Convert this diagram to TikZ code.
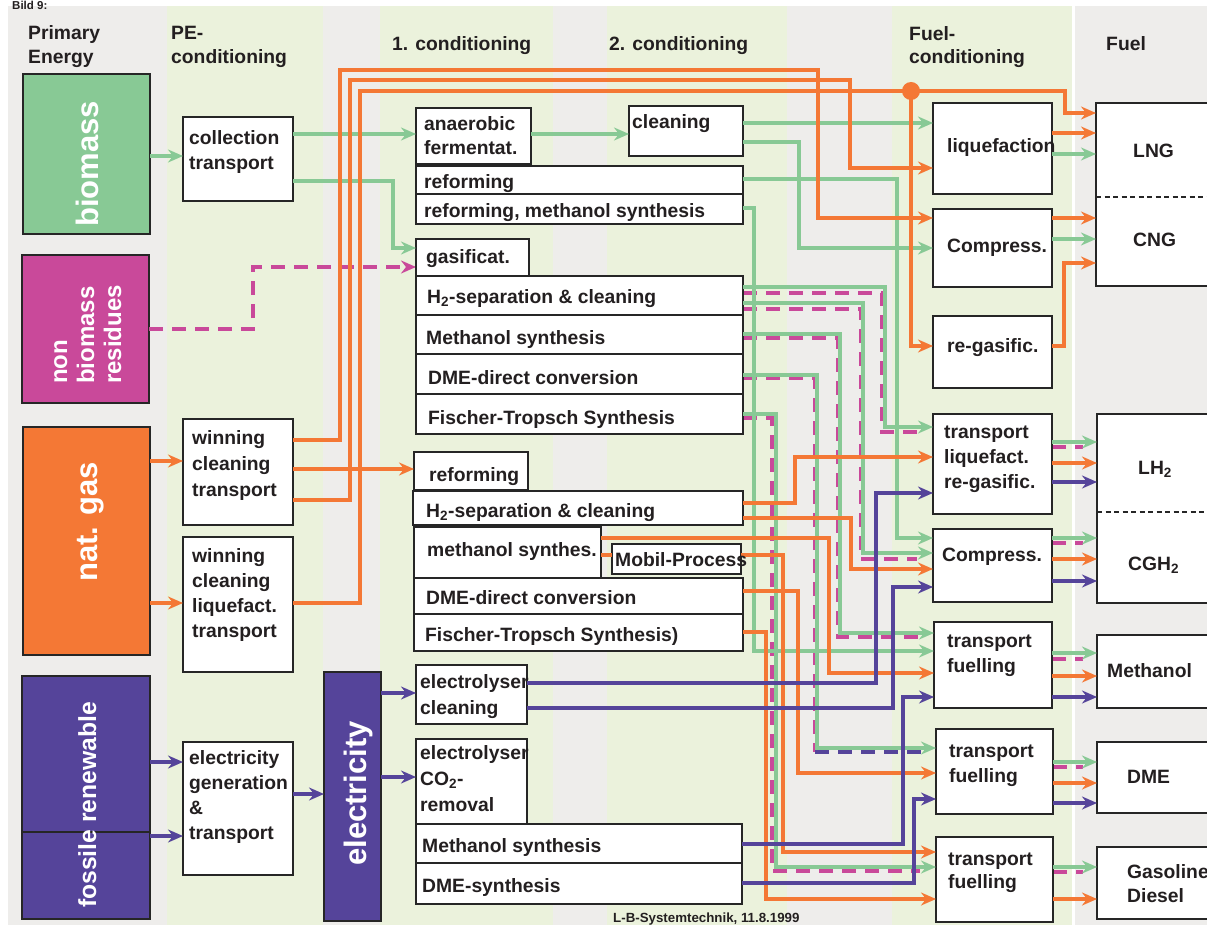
\documentclass[tikz,border=0pt]{standalone}
\usepackage{fontspec}
\setmainfont{Liberation Sans}
\usetikzlibrary{arrows.meta}
\definecolor{cgrn}{HTML}{88C995}
\definecolor{corg}{HTML}{F47835}
\definecolor{cmag}{HTML}{C9499A}
\definecolor{cpur}{HTML}{55449A}
\definecolor{bgg}{HTML}{EEEDEB}
\definecolor{bgl}{HTML}{EBF2DC}
\definecolor{txt}{HTML}{231F20}
\newcommand\bx[6][]{\node[box,#1,minimum width={(#5-#3)*1pt},minimum height={(#6-#4)*1pt}] (#2) at (#3,#4) {};}
\newcommand\lb[5][25.5]{\node[lbl,font=\bfseries\fontsize{19.3}{#1}\selectfont] (#2) at (#3,{#4-0.7*#1}) {\strut #5};}
\begin{document}
\begin{tikzpicture}[x=1pt,y=-1pt,
  box/.style={draw=black!85,line width=1.2pt,fill=white,anchor=north west,inner sep=0pt,outer sep=0pt},
  lbl/.style={anchor=north west,inner sep=0pt,align=left,text=txt},
  rot/.style={rotate=90,anchor=base west,inner sep=0pt,text=white},
  tip/.style={-{Stealth[length=15pt,width=13pt,inset=5pt]}},
  ln/.style={line width=3.3pt},
  gr/.style={ln,draw=cgrn,tip},
  or/.style={ln,draw=corg,tip},
  orn/.style={ln,draw=corg},
  pu/.style={ln,draw=cpur,tip},
  mg/.style={line width=3.6pt,draw=cmag,dash pattern=on 14pt off 9pt},
  pud/.style={line width=3.6pt,draw=cpur,dash pattern=on 14pt off 9pt},
  divl/.style={line width=1.3pt,draw=black!85,dash pattern=on 5pt off 3.5pt}
]
\useasboundingbox (0,0) rectangle (1207,925);
% background columns
\fill[bgg] (8,6) rectangle (167,925);
\fill[bgl] (167,6) rectangle (323,925);
\fill[bgg] (323,6) rectangle (380,925);
\fill[bgl] (380,6) rectangle (553,925);
\fill[bgg] (553,6) rectangle (607,925);
\fill[bgl] (607,6) rectangle (787,925);
\fill[bgg] (787,6) rectangle (892,925);
\fill[bgl] (892,6) rectangle (1072,925);
\fill[bgg] (1075,6) rectangle (1207,925);
\node[anchor=base west,inner sep=0pt,text=txt,font=\bfseries\fontsize{11.5}{11.5}\selectfont] (bild) at (12,9.5) {Bild 9:};
% headers
\lb[24]{hpe}{28}{39}{Primary\\Energy}
\lb[24]{hpec}{171}{39}{PE-\\conditioning}
\lb{hc1}{392}{50}{1. conditioning}
\lb{hc2}{609}{50}{2. conditioning}
\lb[23]{hfc}{909}{40}{Fuel-\\conditioning}
\lb{hfu}{1106}{50}{Fuel}
% coloured source boxes
\bx[fill=cgrn]{bio}{23}{74}{150}{234}
\bx[fill=cmag]{nonbio}{22}{255}{149}{403}
\bx[fill=corg]{natgas}{23}{427}{150}{655}
\bx[fill=cpur]{fossil}{22}{815}{150}{919}
\bx[fill=cpur]{renew}{22}{676}{150}{832}
\bx[fill=cpur]{elec}{324}{672}{381}{921}
% magenta dashed routes
\draw[mg,tip] (nonbio.east |- 0,329) -| (253,267) -- (416,267);
\draw[mg,shorten >=16pt] (743,293) -| (882,432) -- (933,432);
\draw[mg,shorten >=16pt] (743,309) -| (861,559) -- (933,559);
\draw[mg,shorten >=16pt] (743,338) -| (838,637) -- (934,637);
\coordinate (dmecorner) at (815,752);
\draw[mg] (743,378) -| (dmecorner);
\draw[pud,shorten >=14pt] (dmecorner) -- (936,752);
\draw[mg,shorten >=16pt] (743,418) -| (772,871) -- (936,871);
\draw[mg,shorten >=14pt] (1052,447) -- (1097,447);
\draw[mg,shorten >=14pt] (1052,543) -- (1097,543);
\draw[mg,shorten >=14pt] (1052,659) -- (1097,659);
\draw[mg,shorten >=14pt] (1053,767) -- (1097,767);
\draw[mg,shorten >=14pt] (1053,872) -- (1097,872);
% white boxes
\bx{collect}{183}{117}{293}{201}
\bx{win1}{183}{419}{293}{525}
\bx{win2}{183}{537}{293}{672}
\bx{elgen}{183}{742}{293}{875}
\bx{anaer}{416}{108}{531}{164}
\bx{clean}{629}{106}{743}{156}
\bx{reform}{416}{166}{743}{194}
\bx{refmeth}{416}{194}{743}{224}
\bx{gasif}{416}{239}{529}{276}
\bx{h2a}{416}{276}{743}{315}
\bx{meoh}{416}{315}{743}{354}
\bx{dmea}{416}{354}{743}{394}
\bx{fta}{416}{394}{743}{434}
\bx{reform2}{414}{452}{528}{490}
\bx{h2b}{413}{491}{743}{525}
\bx{meoh2}{414}{527}{601}{578}
\bx{dme2}{414}{578}{743}{614}
\bx{ft2}{414}{614}{743}{651}
\bx{mobil}{612}{544}{741}{574}
\bx{ely1}{416}{665}{527}{724}
\bx{ely2}{416}{739}{527}{824}
\bx{meoh3}{416}{824}{742}{863}
\bx{dme3}{416}{863}{742}{904}
\bx{liq}{933}{103}{1052}{194}
\bx{comp1}{933}{209}{1052}{287}
\bx{regas}{933}{316}{1052}{388}
\bx{tliq}{933}{414}{1052}{514}
\bx{comp2}{933}{529}{1052}{602}
\bx{tf1}{934}{622}{1052}{708}
\bx{tf2}{936}{729}{1053}{814}
\bx{tf3}{936}{837}{1053}{922}
\bx{fng}{1096}{103}{1215}{286}
\bx{fh2}{1097}{414}{1215}{603}
\bx{fmeoh}{1097}{635}{1215}{708}
\bx{fdme}{1097}{742}{1215}{813}
\bx{fgas}{1097}{847}{1215}{919}
\draw[divl] (fng.west |- 0,197) -- (1207,197);
\draw[divl] (fh2.west |- 0,512) -- (1207,512);
% green routes
\draw[gr] (bio.east |- 0,156) -- (collect.west |- 0,156);
\draw[gr] (collect.east |- 0,134) -- (anaer.west |- 0,134);
\draw[gr] (collect.east |- 0,181) -| (393,248) -- (gasif.west |- 0,248);
\draw[gr] (anaer.east |- 0,134) -- (clean.west |- 0,134);
\draw[gr] (clean.east |- 0,123) -- (liq.west |- 0,123);
\draw[gr] (clean.east |- 0,142) -| (799,248) -- (comp1.west |- 0,248);
\draw[gr] (reform.east |- 0,179) -| (897,538) -- (comp2.west |- 0,538);
\draw[gr] (refmeth.east |- 0,208) -| (754,651) -- (tf1.west |- 0,651);
\draw[gr] (h2a.east |- 0,287) -| (885,427) -- (tliq.west |- 0,427);
\draw[gr] (h2a.east |- 0,303) -| (863,553) -- (comp2.west |- 0,553);
\draw[gr] (meoh.east |- 0,334) -| (840,633) -- (tf1.west |- 0,633);
\draw[gr] (dmea.east |- 0,375) -| (817,748) -- (tf2.west |- 0,748);
\draw[gr] (fta.east |- 0,414) -| (776,867) -- (tf3.west |- 0,867);
\draw[gr] (liq.east |- 0,154) -- (fng.west |- 0,154);
\draw[gr] (comp1.east |- 0,239) -- (fng.west |- 0,239);
\draw[gr] (tliq.east |- 0,442) -- (fh2.west |- 0,442);
\draw[gr] (comp2.east |- 0,538) -- (fh2.west |- 0,538);
\draw[gr] (tf1.east |- 0,653) -- (fmeoh.west |- 0,653);
\draw[gr] (tf2.east |- 0,762) -- (fdme.west |- 0,762);
\draw[gr] (tf3.east |- 0,867) -- (fgas.west |- 0,867);
% orange routes
\draw[or] (natgas.east |- 0,461) -- (win1.west |- 0,461);
\draw[or] (natgas.east |- 0,603) -- (win2.west |- 0,603);
\draw[or] (win1.east |- 0,440) -| (340,70) -| (818,218) -- (comp1.west |- 0,218);
\draw[or] (win1.east |- 0,500) -| (350,80) -| (850,168) -- (liq.west |- 0,168);
\draw[or] (win2.east |- 0,603) -| (360,91) -| (1065,113) -- (fng.west |- 0,113);
\coordinate (dot) at (911,91);
\draw[or] (dot) |- (regas.west |- 0,346);
\fill[corg] (dot) circle (9);
\draw[or] (win1.east |- 0,469) -- (reform2.west |- 0,469);
\draw[or] (h2b.east |- 0,503) -| (795,457) -- (tliq.west |- 0,457);
\draw[or] (h2b.east |- 0,518) -| (851,569) -- (comp2.west |- 0,569);
\draw[or] (meoh2.east |- 0,538) -| (829,673) -- (tf1.west |- 0,673);
\draw[orn] (meoh2.east |- 0,555) -- (mobil.west |- 0,555);
\draw[or] (mobil.east |- 0,555) -| (783,852) -- (tf3.west |- 0,852);
\draw[or] (dme2.east |- 0,591) -| (798,773) -- (tf2.west |- 0,773);
\draw[or] (ft2.east |- 0,632) -| (766,899) -- (tf3.west |- 0,899);
\draw[or] (liq.east |- 0,133) -- (fng.west |- 0,133);
\draw[or] (comp1.east |- 0,218) -- (fng.west |- 0,218);
\draw[or] (regas.east |- 0,346) -| (1064,263) -- (fng.west |- 0,263);
\draw[or] (tliq.east |- 0,463) -- (fh2.west |- 0,463);
\draw[or] (comp2.east |- 0,559) -- (fh2.west |- 0,559);
\draw[or] (tf1.east |- 0,676) -- (fmeoh.west |- 0,676);
\draw[or] (tf2.east |- 0,783) -- (fdme.west |- 0,783);
\draw[or] (tf3.east |- 0,899) -- (fgas.west |- 0,899);
% purple routes
\draw[pu] (renew.east |- 0,762) -- (elgen.west |- 0,762);
\draw[pu] (fossil.east |- 0,836) -- (elgen.west |- 0,836);
\draw[pu] (elgen.east |- 0,794) -- (elec.west |- 0,794);
\draw[pu] (elec.east |- 0,693) -- (ely1.west |- 0,693);
\draw[pu] (elec.east |- 0,777) -- (ely2.west |- 0,777);
\draw[pu] (ely1.east |- 0,683) -| (876,493) -- (tliq.west |- 0,493);
\draw[pu] (ely1.east |- 0,708) -| (893,587) -- (comp2.west |- 0,587);
\draw[pu] (meoh3.east |- 0,844) -| (903,697) -- (tf1.west |- 0,697);
\draw[pu] (dme3.east |- 0,883) -| (914,799) -- (tf2.west |- 0,799);
\draw[pu] (tliq.east |- 0,482) -- (fh2.west |- 0,482);
\draw[pu] (comp2.east |- 0,581) -- (fh2.west |- 0,581);
\draw[pu] (tf1.east |- 0,697) -- (fmeoh.west |- 0,697);
\draw[pu] (tf2.east |- 0,803) -- (fdme.west |- 0,803);
% rotated labels
\node[rot,font=\bfseries\fontsize{31}{31}\selectfont] (tbio) at (98,227) {biomass};
\node[rot,font=\bfseries\fontsize{24}{24}\selectfont] (tnon) at (67,384) {non};
\node[rot,font=\bfseries\fontsize{24}{24}\selectfont] (tbm) at (94,384) {biomass};
\node[rot,font=\bfseries\fontsize{24}{24}\selectfont] (tres) at (121,384) {residues};
\node[rot,font=\bfseries\fontsize{31}{31}\selectfont] (tng) at (97,582) {nat. gas};
\node[rot,font=\bfseries\fontsize{24.7}{24.7}\selectfont] (tfr) at (96,908) {fossile renewable};
\node[rot,font=\bfseries\fontsize{31}{31}\selectfont] (tel) at (366,866) {electricity};
% box labels
\lb[25]{lcollect}{189}{144}{collection\\transport}
\lb[26]{lwin1}{192}{444}{winning\\cleaning\\transport}
\lb[25]{lwin2}{192}{562}{winning\\cleaning\\liquefact.\\transport}
\lb[25]{lelgen}{189}{764}{electricity\\generation\\\&\\transport}
\lb[24]{lanaer}{424}{130}{anaerobic\\fermentat.}
\lb{lclean}{632}{128}{cleaning}
\lb{lreform}{424}{188}{reforming}
\lb{lrefmeth}{424}{217}{reforming, methanol synthesis}
\lb{lgasif}{426}{263}{gasificat.}
\lb{lh2a}{427}{303}{H\textsubscript{2}-separation \& cleaning}
\lb{lmeoh}{426}{344}{Methanol synthesis}
\lb{ldmea}{428}{384}{DME-direct conversion}
\lb{lfta}{428}{424}{Fischer-Tropsch Synthesis}
\lb{lreform2}{429}{481}{reforming}
\lb{lh2b}{426}{517}{H\textsubscript{2}-separation \& cleaning}
\lb{lmeoh2}{427}{556}{methanol synthes.}
\lb{lmobil}{615}{566}{Mobil-Process}
\lb{ldme2}{426}{604}{DME-direct conversion}
\lb{lft2}{425}{641}{Fischer-Tropsch Synthesis)}
\lb[26]{lely1}{420}{688}{electrolyser\\cleaning}
\lb[26]{lely2}{420}{759}{electrolyser\\CO\textsubscript{2}-\\removal}
\lb{lmeoh3}{422}{852}{Methanol synthesis}
\lb{ldme3}{422}{892}{DME-synthesis}
\lb{lliq}{947}{152}{liquefaction}
\lb{lcomp1}{947}{252}{Compress.}
\lb{lregas}{947}{352}{re-gasific.}
\lb[25]{ltliq}{944}{438}{transport\\liquefact.\\re-gasific.}
\lb{lcomp2}{942}{561}{Compress.}
\lb[25]{ltf1}{947}{647}{transport\\fuelling}
\lb[25]{ltf2}{949}{757}{transport\\fuelling}
\lb[23]{ltf3}{948}{865}{transport\\fuelling}
\lb{llng}{1133}{157}{LNG}
\lb{lcng}{1133}{246}{CNG}
\lb{llh2}{1138}{474}{LH\textsubscript{2}}
\lb{lcgh2}{1128}{570}{CGH\textsubscript{2}}
\lb{lfmeoh}{1107}{677}{Methanol}
\lb{lfdme}{1127}{783}{DME}
\lb[24]{lfgas}{1127}{878}{Gasoline\\Diesel}
\node[anchor=base west,inner sep=0pt,text=txt,font=\bfseries\fontsize{13.3}{13.3}\selectfont] (caption) at (613,922) {L-B-Systemtechnik, 11.8.1999};
\end{tikzpicture}
\end{document}
